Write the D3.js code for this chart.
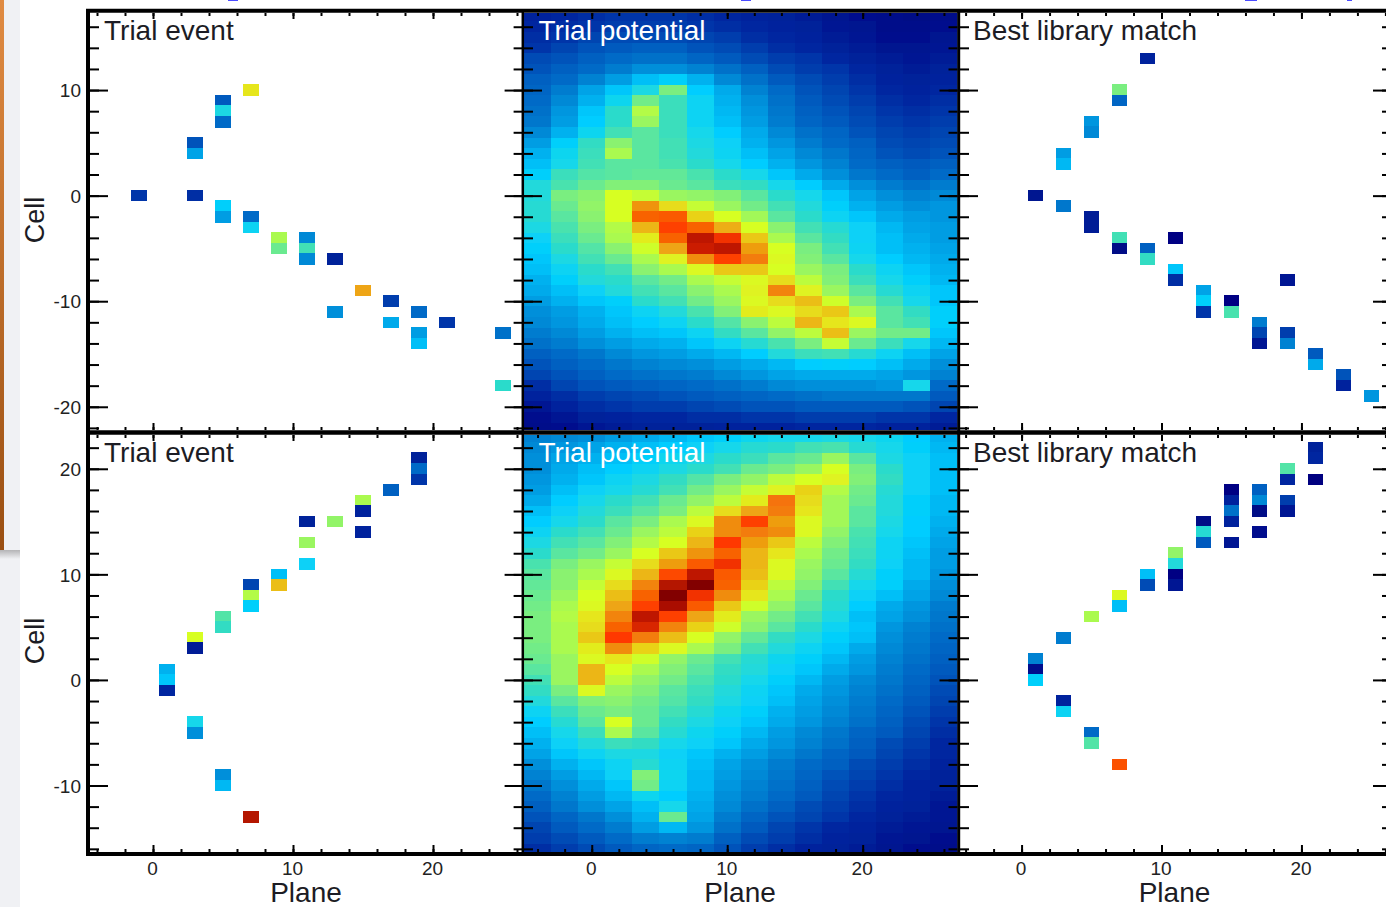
<!DOCTYPE html>
<html><head><meta charset="utf-8">
<script src="https://cdn.jsdelivr.net/npm/d3@7"></script>
<style>html,body{margin:0;padding:0;background:#fff;overflow:hidden}text{font-family:"Liberation Sans",Arial,sans-serif}</style>
</head><body><svg id="c" width="1386" height="907"></svg>
<script>
const planeBinCenters=[-4,-2,0,2,4,6,8,10,12,14,16,18,20,22,24,26];
const xTickLabels=[0,10,20];
const yTickLabelsTop=[10,0,-10,-20];
const yTickLabelsBottom=[20,10,0,-10];
const titles=["Trial event","Trial potential","Best library match"];
const colorLevels=[0,10,17,24,30,35,40,45,50,55,60,65,69,73,79,85,89,94,100];
const colorStops=["#000080","#0028a0","#005abe","#0082d2","#00aaeb","#00cdff","#14d7eb","#32dcc3","#5ae6a0","#82f078","#aafa50","#d7ff23","#e6e61e","#ebbe14","#f08c0f","#fa5a00","#ff3700","#be1900","#820000"];

const topFirstCell=17;
const potentialTop=[
[9,10,11,12,12,12,11,10,9,8,7,5,4,3,2,3],
[10,11,12,13,13,13,12,11,10,9,8,6,5,3,3,4],
[11,12,14,15,15,15,14,13,11,10,9,7,6,4,4,5],
[12,14,16,17,18,18,16,15,13,11,10,8,7,5,5,6],
[15,16,18,20,21,21,19,17,15,13,12,10,8,7,6,7],
[16,18,20,23,26,26,24,21,18,15,13,12,10,8,7,8],
[18,20,24,28,33,36,31,25,21,17,15,13,11,9,8,9],
[19,23,29,34,41,54,35,30,24,20,16,14,12,10,9,10],
[20,25,31,39,53,46,38,31,26,21,17,15,13,11,10,11],
[21,27,34,44,61,46,38,32,27,22,18,16,14,12,11,12],
[22,28,35,44,58,46,38,33,28,23,19,17,15,13,12,13],
[25,31,39,47,50,46,40,35,30,25,21,19,16,14,13,14],
[28,36,45,56,50,47,41,37,31,27,23,20,18,15,14,15],
[31,39,46,60,50,47,42,38,33,29,25,22,19,16,15,16],
[33,40,47,50,50,48,44,40,35,31,27,24,20,18,17,18],
[36,46,49,50,51,51,48,44,40,34,30,26,22,20,18,20],
[42,48,52,55,55,52,50,46,45,40,35,30,26,23,21,23],
[42,54,56,65,63,58,57,55,50,44,40,34,29,26,24,25],
[43,52,57,65,78,70,63,58,53,47,42,36,31,28,26,27],
[43,50,56,65,84,85,71,65,59,50,44,38,34,30,28,27],
[41,48,54,61,74,88,84,75,65,56,47,43,37,32,29,28],
[37,46,52,60,68,84,94,90,72,60,50,45,37,33,30,28],
[36,44,49,56,64,76,93,94,77,65,54,47,38,33,31,29],
[34,41,47,52,60,67,79,88,81,66,55,50,40,35,32,30],
[33,38,44,47,56,60,66,72,72,65,58,54,44,38,34,31],
[31,36,42,44,50,53,60,63,66,70,62,55,46,40,36,32],
[30,33,37,42,47,50,56,60,67,80,67,58,50,43,38,34],
[28,31,34,36,44,47,53,58,66,70,73,64,54,47,40,34],
[26,28,31,34,38,42,48,55,68,66,70,72,60,50,45,36],
[25,27,30,33,35,38,44,49,56,62,74,69,66,50,47,36],
[23,25,28,31,33,34,38,45,50,57,62,73,58,53,53,34],
[21,23,26,28,30,31,34,38,43,48,54,63,52,46,40,32],
[18,20,22,25,27,28,30,32,35,42,46,47,43,38,33,29],
[16,18,20,22,24,25,26,28,30,32,35,36,35,33,30,26],
[14,16,18,20,21,22,23,25,27,29,30,30,30,29,27,24],
[11,14,16,17,18,19,20,21,23,25,26,26,26,27,40,20],
[9,11,13,14,15,16,17,18,19,20,21,22,22,22,22,17],
[6,9,11,12,13,13,14,15,16,16,17,17,17,17,16,14],
[4,6,8,9,10,10,11,11,12,12,13,13,13,12,12,10],
[3,4,6,7,8,8,8,9,9,9,10,10,10,9,9,7]];

const bottomFirstCell=23;
const potentialBottom=[
[24,25,26,28,30,32,34,36,39,40,40,41,40,39,35,31],
[25,27,29,31,33,35,37,40,43,44,47,48,43,40,36,32],
[26,29,31,33,36,39,41,44,46,50,52,58,50,41,37,33],
[26,30,33,35,38,41,44,47,52,54,58,65,54,44,37,33],
[27,31,34,38,41,45,49,54,57,62,65,67,55,45,37,33],
[28,33,37,40,43,47,53,58,63,67,71,61,53,43,37,33],
[30,35,40,44,47,52,57,62,68,82,70,59,52,42,36,32],
[33,37,42,46,50,54,62,70,76,81,69,59,50,42,36,32],
[35,40,44,50,54,60,66,79,88,77,66,59,50,41,35,31],
[38,44,47,52,58,62,71,79,81,79,66,57,48,40,35,30],
[41,47,50,55,61,65,74,89,77,72,62,55,47,38,34,29],
[44,50,53,58,65,72,78,84,74,69,60,53,46,38,33,28],
[48,54,58,63,70,77,85,90,74,66,58,52,45,37,32,28],
[50,56,60,66,74,87,94,85,73,66,57,50,43,36,32,27],
[51,56,63,70,80,95,100,84,71,62,55,47,40,36,30,26],
[52,58,65,73,84,100,90,79,69,60,52,44,37,33,29,25],
[53,60,66,76,88,96,85,72,64,57,50,43,35,30,27,23],
[54,61,69,80,94,88,76,68,58,53,47,41,33,29,26,22],
[54,60,70,84,92,80,71,64,56,50,44,38,34,27,24,21],
[54,60,72,89,81,73,65,57,51,45,41,36,33,26,23,20],
[53,60,68,79,71,66,60,54,47,42,38,34,30,25,22,19],
[52,58,66,69,64,57,52,47,43,39,36,32,28,24,21,18],
[50,58,74,65,60,55,50,45,42,37,34,30,27,23,20,17],
[47,58,74,62,57,53,48,44,40,36,32,28,25,22,19,16],
[45,54,66,58,55,50,46,42,38,34,30,27,24,21,18,15],
[42,50,55,56,53,49,45,41,37,33,29,26,23,20,17,14],
[38,46,52,54,52,47,43,39,36,31,28,25,22,19,16,13],
[35,43,50,65,52,45,41,37,34,30,27,24,21,18,15,12],
[33,40,46,60,50,43,39,36,32,28,25,22,19,17,14,11],
[31,37,42,46,45,40,37,34,30,27,24,21,18,15,13,10],
[29,34,38,41,41,37,34,31,28,25,22,19,17,14,12,10],
[26,31,34,38,43,38,33,29,26,23,20,18,15,13,11,9],
[24,28,32,37,55,39,32,28,25,22,19,16,14,12,10,8],
[22,26,30,34,53,38,32,27,24,21,18,15,13,11,9,8],
[20,24,28,32,39,35,31,26,23,20,17,14,12,10,9,7],
[18,22,26,29,33,40,30,25,21,18,15,13,11,9,8,6],
[16,19,22,26,31,52,29,23,19,16,14,12,10,8,7,6],
[14,17,20,23,28,32,27,21,17,14,12,10,9,7,6,5],
[13,15,17,20,23,24,23,18,15,13,11,9,8,6,5,4],
[11,13,15,17,19,20,19,16,13,11,9,8,7,5,4,3]];

// [plane, cell, level]
const eventTop=[[-1,0,12],[3,5,16],[3,4,29],[3,0,11],[5,9,17],[5,8,41],[5,7,20],[7,10,69],[5,-1,36],[5,-2,28],[7,-2,20],[7,-3,38],[9,-4,60],[9,-5,52],[11,-4,25],[11,-5,47],[11,-6,25],[13,-6,8],[13,-11,26],[15,-9,76],[17,-10,13],[17,-12,30],[19,-11,20],[19,-13,28],[19,-14,33],[21,-12,12],[25,-13,21],[25,-18,44]];
const eventBottom=[[1,1,31],[1,0,34],[1,-1,10],[3,4,65],[3,3,7],[3,-4,40],[3,-5,26],[5,6,49],[5,5,45],[5,-9,26],[5,-10,32],[7,9,14],[7,8,61],[7,7,36],[7,-13,95],[9,10,33],[9,9,73],[11,15,8],[11,13,58],[11,11,37],[13,15,57],[15,17,60],[15,16,9],[15,14,9],[17,18,18],[19,21,8],[19,20,20],[19,19,12]];
const matchTop=[[1,0,5],[3,-1,22],[3,4,28],[3,3,32],[5,7,27],[5,6,25],[5,-2,7],[5,-3,7],[7,10,54],[7,9,19],[7,-4,47],[7,-5,2],[9,13,9],[9,-5,18],[9,-6,45],[11,-4,1],[11,-7,34],[11,-8,11],[13,-9,29],[13,-10,36],[13,-11,12],[15,-10,1],[15,-11,48],[17,-12,23],[17,-13,14],[17,-14,6],[19,-8,6],[19,-13,13],[19,-14,24],[21,-15,17],[21,-16,30],[23,-17,16],[23,-18,9],[25,-19,27]];
const matchBottom=[[1,2,24],[1,1,4],[1,0,36],[3,4,23],[3,-2,9],[3,-3,38],[5,6,60],[5,-5,20],[5,-6,49],[7,8,66],[7,7,33],[7,-8,86],[9,10,33],[9,9,15],[11,12,57],[11,11,42],[11,10,1],[11,9,6],[13,15,2],[13,14,43],[13,13,17],[15,18,1],[15,17,9],[15,16,21],[15,15,9],[15,13,6],[17,18,18],[17,17,25],[17,16,2],[17,14,4],[19,20,49],[19,19,10],[19,17,13],[19,16,6],[21,22,8],[21,21,10],[21,19,0]];

const svg=d3.select("#c");
const color=d3.scaleLinear().domain(colorLevels).range(colorStops).clamp(true);

// page backdrop seen at the left edge of the screenshot
const defs=svg.append("defs");
const g=defs.append("linearGradient").attr("id","strip").attr("x1",0).attr("x2",0).attr("y1",0).attr("y2",1);
g.append("stop").attr("offset",0).attr("stop-color","#e08b42");
g.append("stop").attr("offset",1).attr("stop-color","#9a4f12");
const sh=defs.append("linearGradient").attr("id","shade").attr("x1",0).attr("x2",0).attr("y1",0).attr("y2",1);
sh.append("stop").attr("offset",0).attr("stop-color","#b4b4b6");
sh.append("stop").attr("offset",1).attr("stop-color","#f0f1f4");
const soft=defs.append("filter").attr("id","soft").attr("x","-2%").attr("y","-2%").attr("width","104%").attr("height","104%");
soft.append("feGaussianBlur").attr("stdDeviation",0.55);
svg.append("rect").attr("x",0).attr("y",0).attr("width",20).attr("height",907).attr("fill","#f0f1f4");
svg.append("rect").attr("x",0).attr("y",550).attr("width",20).attr("height",9).attr("fill","url(#shade)");
svg.append("rect").attr("x",0).attr("y",0).attr("width",4).attr("height",550).attr("fill","url(#strip)");
[[228,10],[741,10],[1245,12],[1347,5]].forEach(d=>svg.append("rect").attr("x",d[0]).attr("y",0).attr("width",d[1]).attr("height",1).attr("fill","#4a4aff"));

const cols=[
 {l:90,r:522.6,domain:[-4.5,26.4],titleX:104},
 {l:524,r:957.5,domain:[-5,27],titleX:538.5},
 {l:960,r:1391,domain:[-4.4,26.4],titleX:973}];
const rows=[
 {t:13,b:430,domain:[17.3,-22.2],labels:yTickLabelsTop,bottom:false,first:topFirstCell,pot:potentialTop,ev:eventTop,mt:matchTop,titleY:40},
 {t:435,b:852,domain:[23.2,-16.3],labels:yTickLabelsBottom,bottom:true,first:bottomFirstCell,pot:potentialBottom,ev:eventBottom,mt:matchBottom,titleY:462}];
const evenTicks=(a,b)=>d3.range(Math.ceil(a/2)*2,b+0.001,2);
const fmt=d=>String(d);

rows.forEach((row,ri)=>cols.forEach((col,ci)=>{
  const x=d3.scaleLinear().domain(col.domain).range([col.l,col.r]);
  const y=d3.scaleLinear().domain(row.domain).range([row.t,row.b]);
  const id="clip"+ri+ci;
  defs.append("clipPath").attr("id",id).append("rect").attr("x",col.l).attr("y",row.t).attr("width",col.r-col.l).attr("height",row.b-row.t);
  const p=svg.append("g").attr("clip-path","url(#"+id+")").append("g").attr("filter","url(#soft)");
  if(ci===1){
    row.pot.forEach((vals,i)=>{
      const cell=row.first-i;
      p.selectAll(null).data(vals).enter().append("rect")
        .attr("x",(d,j)=>x(planeBinCenters[j]-1))
        .attr("width",(d,j)=>x(planeBinCenters[j]+1)-x(planeBinCenters[j]-1)+0.5)
        .attr("y",y(cell+0.5)).attr("height",y(cell-0.5)-y(cell+0.5)+0.5)
        .attr("fill",d=>color(d)).attr("shape-rendering","crispEdges");
    });
  } else {
    p.selectAll(null).data(ci===0?row.ev:row.mt).enter().append("rect")
      .attr("x",d=>x(d[0]-0.56)).attr("width",d=>x(d[0]+0.56)-x(d[0]-0.56))
      .attr("y",d=>y(d[1]+0.55)).attr("height",d=>y(d[1]-0.55)-y(d[1]+0.55))
      .attr("fill",d=>color(d[2])).attr("shape-rendering","crispEdges");
  }
  // ticks, all four sides, drawn through d3 axes
  const yMinor=evenTicks(row.domain[1],row.domain[0]);
  const xMinor=evenTicks(col.domain[0],col.domain[1]);
  const axes=[
   [d3.axisLeft(y).tickValues(yMinor).tickSize(-9),col.l,0],
   [d3.axisLeft(y).tickValues(row.labels).tickSize(-18),col.l,0],
   [d3.axisRight(y).tickValues(yMinor).tickSize(-9),col.r,0],
   [d3.axisRight(y).tickValues(row.labels).tickSize(-18),col.r,0],
   [d3.axisBottom(x).tickValues(xMinor).tickSize(-3),0,row.b],
   [d3.axisBottom(x).tickValues(xTickLabels).tickSize(-7),0,row.b],
   [d3.axisTop(x).tickValues(xMinor).tickSize(-3),0,row.t],
   [d3.axisTop(x).tickValues(xTickLabels).tickSize(-6),0,row.t]];
  axes.forEach(a=>{
    const ag=svg.append("g").attr("transform","translate("+a[1]+","+a[2]+")").call(a[0].tickFormat(""));
    ag.select(".domain").remove();
    ag.selectAll("line").attr("stroke","#000").attr("stroke-width",2);
    ag.selectAll("text").remove();
  });
  // titles
  svg.append("text").attr("x",col.titleX).attr("y",row.titleY).attr("font-size",28)
    .attr("fill",ci===1?"#fff":"#1c1c24").text(titles[ci]);
  // y tick labels
  if(ci===0){
    const ya=svg.append("g").attr("transform","translate("+(col.l-9)+",0.7)")
      .call(d3.axisLeft(y).tickValues(row.labels).tickSize(0).tickPadding(0).tickFormat(fmt));
    ya.select(".domain").remove();
    ya.selectAll("text").attr("font-size",19).attr("font-family","Liberation Sans").attr("fill","#222");
    svg.append("text").attr("transform","translate(44,"+(ri===0?220:641)+") rotate(-90)")
      .attr("text-anchor","middle").attr("font-size",27).attr("fill","#1c1c24").text("Cell");
  }
  // x tick labels
  if(row.bottom){
    const xa=svg.append("g").attr("transform","translate(-1,"+(row.b+9)+")")
      .call(d3.axisBottom(x).tickValues(xTickLabels).tickSize(0).tickPadding(0).tickFormat(fmt));
    xa.select(".domain").remove();
    xa.selectAll("text").attr("font-size",19).attr("font-family","Liberation Sans").attr("fill","#222");
    svg.append("text").attr("x",[306,740,1174.5][ci]).attr("y",902).attr("text-anchor","middle")
      .attr("font-size",28).attr("fill","#1c1c24").text("Plane");
  }
}));

// frame lines
const frame=svg.append("g").attr("stroke","#000").attr("fill","none");
[[88,9,88,855,4],[522.8,9,522.8,855,2.5],[958.7,9,958.7,855,3],
 [86,10.8,1386,10.8,4],[86,432.5,1386,432.5,4.5],[86,854,1386,854,4.2]].forEach(d=>
  frame.append("line").attr("x1",d[0]).attr("y1",d[1]).attr("x2",d[2]).attr("y2",d[3]).attr("stroke-width",d[4]));
</script></body></html>
